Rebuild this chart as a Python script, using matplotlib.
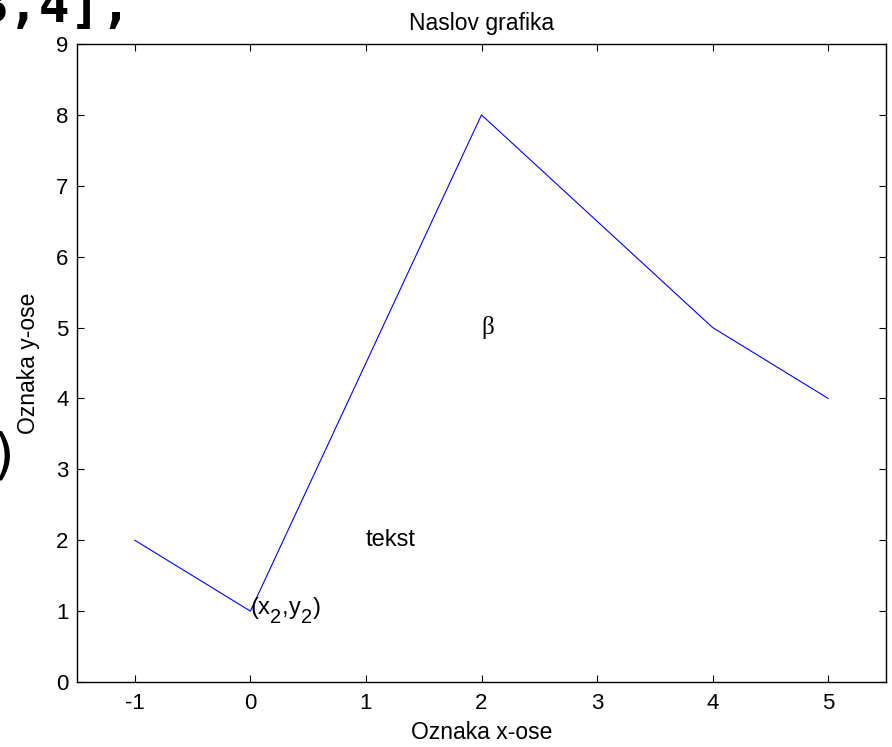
import matplotlib
matplotlib.use("Agg")
import matplotlib.pyplot as plt
import matplotlib._mathtext as mt

# data
x = [-1, 0, 2, 4, 5]
y = [2, 1, 8, 5, 4]
xticks = [-1, 0, 1, 2, 3, 4, 5]
yticks = [0, 1, 2, 3, 4, 5, 6, 7, 8, 9]

plt.rcParams['font.family'] = ['Liberation Sans', 'DejaVu Sans']
plt.rcParams['axes.unicode_minus'] = False
plt.rcParams['mathtext.fontset'] = 'custom'
plt.rcParams['mathtext.rm'] = 'Liberation Sans'
plt.rcParams['mathtext.it'] = 'Liberation Sans'
# matlab subscripts are larger and sit lower than mathtext's default
mt.SHRINK_FACTOR = 0.85
mt.FontConstantsBase.sub1 = 0.75
mt.FontConstantsBase.sub2 = 0.9

fig = plt.figure(figsize=(8.92, 7.47), dpi=100)
ax = fig.add_axes([77/892, 1 - 682/747, (886 - 77)/892, (682 - 44)/747])

ax.plot(x, y, color='blue', linewidth=0.8)

ax.set_xlim(-1.5, 5.5)
ax.set_ylim(0, 9)
ax.set_xticks(xticks)
ax.set_yticks(yticks)
ax.tick_params(direction='in', top=True, right=True, length=5, width=0.8,
               labelsize=16)
ax.tick_params(axis='x', pad=8)
ax.tick_params(axis='y', pad=6)
for s in ax.spines.values():
    s.set_linewidth(1.0)

ax.set_title('Naslov grafika', fontsize=16.5, pad=10)
ax.set_xlabel('Oznaka x-ose', fontsize=16.5, labelpad=5)
ax.set_ylabel('Oznaka y-ose', fontsize=16.5, labelpad=12)

# text annotations
ax.text(1, 2, 'tekst', fontsize=17, ha='left', va='center')
ax.text(2, 5, '\u03b2', fontsize=18, family='Liberation Serif',
        ha='left', va='center')
ax.text(0, 1, r'(x$_\mathrm{2}$,y$_\mathrm{2}$)', fontsize=17,
        ha='left', va='center')

# pieces of the screenshot behind the figure
fig.text(-22/892, 1 - 22/747, '3,4],', fontsize=37, family='DejaVu Sans Mono',
         weight='bold', ha='left', va='baseline')
fig.text(-12/892, 1 - 458/747, ')', fontsize=40, family='DejaVu Sans Mono',
         ha='left', va='center')

fig.savefig('out.png', dpi=100)
